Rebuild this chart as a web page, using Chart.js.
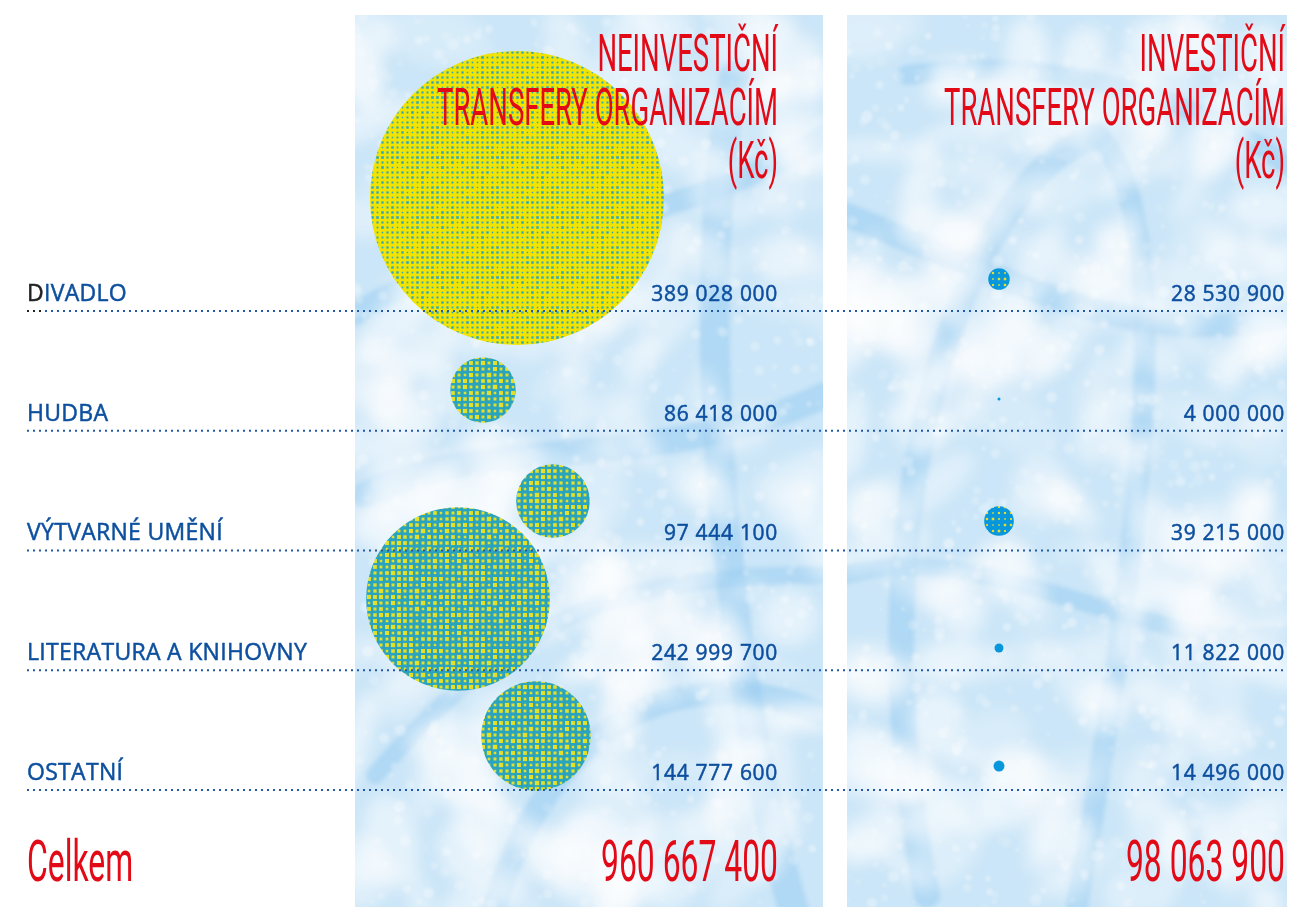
<!DOCTYPE html>
<html>
<head>
<meta charset="utf-8">
<script src="https://cdn.jsdelivr.net/npm/chart.js@4/dist/chart.umd.min.js"></script>
<style>
  html, body { margin: 0; padding: 0; background: #fff; }
  #graf { display: block; }
</style>
</head>
<body>
<canvas id="graf" width="1294" height="907"></canvas>
<script>
// kategorie a castky v Kc
const kategorie = ['DIVADLO', 'HUDBA', 'VÝTVARNÉ UMĚNÍ', 'LITERATURA A KNIHOVNY', 'OSTATNÍ'];
const neinvesticni = [389028000, 86418000, 97444100, 242999700, 144777600];
const investicni = [28530900, 4000000, 39215000, 11822000, 14496000];
const nadpisLevy = ['NEINVESTIČNÍ', 'TRANSFERY ORGANIZACÍM', '(Kč)'];
const nadpisPravy = ['INVESTIČNÍ', 'TRANSFERY ORGANIZACÍM', '(Kč)'];
const celkemText = 'Celkem';

// rozmisteni bublin (x v px, y v radcich)
const levyX = [517, 483, 553, 458, 536];
const levyY = [-0.944, 0.66, 1.587, 2.405, 3.549];
const pravyX = 999;
const pravyY = [-0.267, 0.735, 1.754, 2.814, 3.8];
const kcNaPx = 147 / 389028000; // polomer bubliny roste s castkou

const W = 1294, H = 907;
const PANEL_L = [355, 823], PANEL_R = [847, 1287];
const MODRA = '#0d4f9f', CERVENA = '#e30a17';
const NADPIS_FONT = '400 52px Roboto, "Liberation Sans Narrow", sans-serif';
const SOUHRN_FONT = '400 58px Roboto, "Liberation Sans Narrow", sans-serif';

function soucet(a) { return a.reduce((s, v) => s + v, 0); }
function formatCislo(v) { return String(v).replace(/\B(?=(\d{3})+(?!\d))/g, ' '); }

// deterministicky generator pro texturu pozadi
function mulberry32(a) {
  return function () {
    a |= 0; a = a + 0x6D2B79F5 | 0;
    let t = Math.imul(a ^ a >>> 15, 1 | a);
    t = t + Math.imul(t ^ t >>> 7, 61 | t) ^ t;
    return ((t ^ t >>> 14) >>> 0) / 4294967296;
  };
}

function texturaPanelu(w, h, seed, tahy) {
  const c = document.createElement('canvas');
  c.width = w; c.height = h;
  const g = c.getContext('2d');
  const rnd = mulberry32(seed);
  g.fillStyle = '#cbe6f8';
  g.fillRect(0, 0, w, h);
  // siroke tahy kridou
  g.lineCap = 'round';
  g.filter = 'blur(2px)';
  tahy.forEach(t => {
    g.strokeStyle = 'rgba(150,204,242,0.5)';
    g.lineWidth = t[8];
    g.beginPath();
    g.moveTo(t[0], t[1]);
    g.bezierCurveTo(t[2], t[3], t[4], t[5], t[6], t[7]);
    g.stroke();
  });
  // svetle mraky
  g.filter = 'blur(8px)';
  for (let i = 0; i < 220; i++) {
    const x = rnd() * w, y = rnd() * h;
    g.fillStyle = 'rgba(255,255,255,' + (0.2 + rnd() * 0.35).toFixed(2) + ')';
    g.beginPath();
    g.ellipse(x, y, 15 + rnd() * 45, 8 + rnd() * 22, rnd() * Math.PI, 0, Math.PI * 2);
    g.fill();
  }
  g.filter = 'blur(1.5px)';
  for (let i = 0; i < 900; i++) {
    const x = rnd() * w, y = rnd() * h, r = 1 + rnd() * 5;
    g.fillStyle = 'rgba(255,255,255,' + (0.1 + rnd() * 0.25).toFixed(2) + ')';
    g.beginPath(); g.arc(x, y, r, 0, Math.PI * 2); g.fill();
  }
  g.filter = 'none';
  return c;
}

const texL = texturaPanelu(PANEL_L[1] - PANEL_L[0], H - 15, 7, [
  [380, 60, 330, 300, 380, 700, 440, 900, 30],
  [10, 480, 120, 420, 300, 460, 470, 380, 26],
  [0, 300, 150, 200, 320, 220, 470, 120, 22],
  [140, 890, 200, 700, 330, 640, 470, 700, 24],
  [20, 760, 160, 600, 260, 560, 470, 560, 18]
]);
const texR = texturaPanelu(PANEL_R[1] - PANEL_R[0], H - 15, 19, [
  [80, 880, 0, 500, 120, 160, 250, 120, 26],
  [250, 120, 330, 200, 300, 500, 230, 890, 22],
  [0, 200, 150, 260, 300, 340, 440, 300, 24],
  [0, 560, 140, 520, 300, 640, 440, 620, 18],
  [60, 60, 200, 40, 350, 80, 440, 150, 20]
]);

// rastrove vyplne bublin
function rastr(zaklad, tecka, krok, velikost, seed) {
  const n = krok * 12;
  const c = document.createElement('canvas');
  c.width = n; c.height = n;
  const g = c.getContext('2d');
  const rnd = mulberry32(seed);
  g.fillStyle = zaklad; g.fillRect(0, 0, n, n);
  g.fillStyle = tecka;
  for (let y = 0; y < n; y += krok) {
    for (let x = 0; x < n; x += krok) {
      const s = velikost * (0.7 + rnd() * 0.6);
      g.fillRect(x + (krok - s) / 2, y + (krok - s) / 2, s, s);
    }
  }
  return g.createPattern(c, 'repeat');
}
const ctx = document.getElementById('graf').getContext('2d');
const vzorZluty = rastr('#f2e400', '#2aa6c4', 5, 2, 3);
const vzorZeleny = rastr('#2aa3bf', '#e4e02a', 6, 3.4, 5);
const vzorModry = rastr('#0896dc', '#0896dc', 6, 2, 9);
const vzorModryZ = rastr('#0896dc', '#e6e02a', 6, 2, 11);

const levaData = neinvesticni.map((v, i) => ({ x: levyX[i], y: levyY[i], r: v * kcNaPx }));
const pravaData = investicni.map((v, i) => ({ x: pravyX, y: pravyY[i], r: v * kcNaPx }));

// zuzeni pisma tak, aby radek mel danou sirku
function zuzeni(g, font, vzor, sirka) {
  g.save();
  g.font = font;
  const w = g.measureText(vzor).width;
  g.restore();
  return sirka / w;
}

// uzky cerveny text, zarovnany vpravo (nebo vlevo)
function uzkyText(g, text, x, y, font, sx, barva, zarovnani) {
  g.save();
  g.font = font;
  g.translate(x, y);
  g.scale(sx, 1);
  g.fillStyle = barva;
  g.textAlign = zarovnani || 'right';
  g.textBaseline = 'alphabetic';
  g.fillText(text, 0, 0);
  g.restore();
}

const pozadi = {
  id: 'pozadi',
  beforeDraw(chart) {
    const g = chart.ctx;
    g.save();
    g.fillStyle = '#fff';
    g.fillRect(0, 0, W, H);
    g.drawImage(texL, PANEL_L[0], 15);
    g.drawImage(texR, PANEL_R[0], 15);
    g.restore();
  }
};

function popisek(g, text, x, y, barva) {
  g.fillStyle = barva;
  g.strokeStyle = barva;
  g.lineWidth = 0.5;
  g.fillText(text, x, y);
  g.strokeText(text, x, y);
}

const popisky = {
  id: 'popisky',
  afterDatasetsDraw(chart) {
    const g = chart.ctx;
    const ys = chart.scales.y;
    g.save();
    kategorie.forEach((k, i) => {
      const yl = ys.getPixelForValue(i);
      // teckovana linka
      for (let x = 27; x < PANEL_R[1]; x += 6) {
        g.fillStyle = (i === 0 && x < 45) ? '#222' : '#2358a6';
        g.fillRect(x, yl - 1, 2, 2);
      }
      g.font = '500 23px "Open Sans", sans-serif';
      g.letterSpacing = '0.3px';
      g.textBaseline = 'alphabetic';
      g.textAlign = 'left';
      if (i === 0) {
        popisek(g, k[0], 27, yl - 10, '#222');
        const w0 = g.measureText(k[0]).width;
        popisek(g, k.slice(1), 27 + w0, yl - 10, MODRA);
      } else {
        popisek(g, k, 27, yl - 10, MODRA);
      }
      g.font = '500 21px "Open Sans", sans-serif';
      g.letterSpacing = '0.7px';
      g.textAlign = 'right';
      popisek(g, formatCislo(neinvesticni[i]), 778, yl - 10, MODRA);
      popisek(g, formatCislo(investicni[i]), 1285, yl - 10, MODRA);
      g.letterSpacing = '0px';
    });
    // nadpisy sloupcu
    const sx = zuzeni(g, NADPIS_FONT, 'TRANSFERY ORGANIZACÍM', 341);
    const radky = [71, 125, 178];
    nadpisLevy.forEach((t, i) => uzkyText(g, t, 778, radky[i], NADPIS_FONT, sx, CERVENA));
    nadpisPravy.forEach((t, i) => uzkyText(g, t, 1285, radky[i], NADPIS_FONT, sx, CERVENA));
    // souhrn
    const celkemL = formatCislo(soucet(neinvesticni));
    const sx2 = zuzeni(g, SOUHRN_FONT, celkemL, 177);
    uzkyText(g, celkemText, 27, 881, SOUHRN_FONT, sx2, CERVENA, 'left');
    uzkyText(g, celkemL, 778, 881, SOUHRN_FONT, sx2, CERVENA);
    uzkyText(g, formatCislo(soucet(investicni)), 1285, 881, SOUHRN_FONT, sx2, CERVENA);
    g.restore();
  }
};

new Chart(ctx, {
  type: 'bubble',
  data: {
    datasets: [
      {
        label: 'Neinvestiční transfery organizacím',
        data: levaData,
        backgroundColor: levaData.map((d, i) => i === 0 ? vzorZluty : vzorZeleny),
        borderWidth: 0,
        hoverBorderWidth: 0
      },
      {
        label: 'Investiční transfery organizacím',
        data: pravaData,
        backgroundColor: pravaData.map((d, i) => i === 0 || i === 2 ? vzorModryZ : vzorModry),
        borderWidth: 0,
        hoverBorderWidth: 0
      }
    ]
  },
  options: {
    responsive: false,
    animation: false,
    layout: { padding: 0, autoPadding: false },
    clip: false,
    scales: {
      x: { type: 'linear', min: 0, max: W, display: false },
      y: { type: 'linear', min: -2.597, max: 4.977, reverse: true, display: false }
    },
    plugins: {
      legend: { display: false },
      tooltip: { enabled: false }
    }
  },
  plugins: [pozadi, popisky]
});
</script>
</body>
</html>
